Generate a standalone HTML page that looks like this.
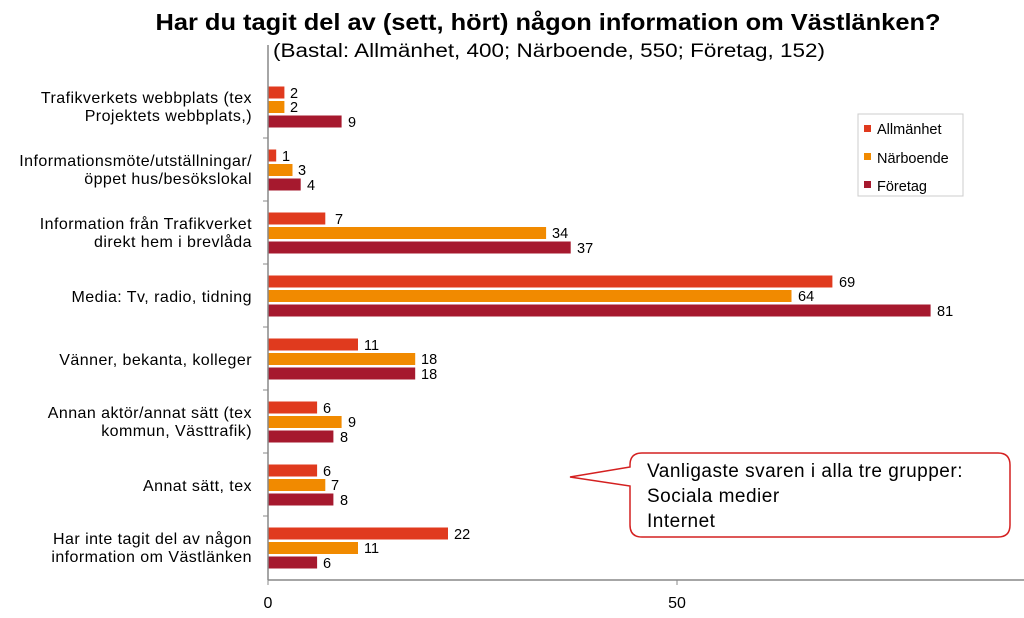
<!DOCTYPE html>
<html><head><meta charset="utf-8"><style>
body{margin:0;background:#fff;}
svg text{font-family:"Liberation Sans",sans-serif;}
</style></head><body>
<svg width="1024" height="613" viewBox="0 0 1024 613" xmlns="http://www.w3.org/2000/svg">
<text x="548" y="30" text-anchor="middle" font-size="23" font-weight="bold" textLength="785" lengthAdjust="spacingAndGlyphs">Har du tagit del av (sett, hört) någon information om Västlänken?</text>
<text x="549" y="57" text-anchor="middle" font-size="19" textLength="552" lengthAdjust="spacingAndGlyphs">(Bastal: Allmänhet, 400; Närboende, 550; Företag, 152)</text>

<g>
<rect x="268" y="86.5" width="16.4" height="12" fill="#e03a1e"/><rect x="268" y="101" width="16.4" height="12" fill="#f18a00"/><rect x="268" y="115.5" width="73.6" height="12" fill="#a6192e"/>
<rect x="268" y="149.5" width="8.2" height="12" fill="#e03a1e"/><rect x="268" y="164" width="24.5" height="12" fill="#f18a00"/><rect x="268" y="178.5" width="32.7" height="12" fill="#a6192e"/>
<rect x="268" y="212.5" width="57.3" height="12" fill="#e03a1e"/><rect x="268" y="227" width="278.1" height="12" fill="#f18a00"/><rect x="268" y="241.5" width="302.7" height="12" fill="#a6192e"/>
<rect x="268" y="275.5" width="564.4" height="12" fill="#e03a1e"/><rect x="268" y="290" width="523.5" height="12" fill="#f18a00"/><rect x="268" y="304.5" width="662.6" height="12" fill="#a6192e"/>
<rect x="268" y="338.5" width="90" height="12" fill="#e03a1e"/><rect x="268" y="353" width="147.2" height="12" fill="#f18a00"/><rect x="268" y="367.5" width="147.2" height="12" fill="#a6192e"/>
<rect x="268" y="401.5" width="49.1" height="12" fill="#e03a1e"/><rect x="268" y="416" width="73.6" height="12" fill="#f18a00"/><rect x="268" y="430.5" width="65.4" height="12" fill="#a6192e"/>
<rect x="268" y="464.5" width="49.1" height="12" fill="#e03a1e"/><rect x="268" y="479" width="57.3" height="12" fill="#f18a00"/><rect x="268" y="493.5" width="65.4" height="12" fill="#a6192e"/>
<rect x="268" y="527.5" width="180" height="12" fill="#e03a1e"/><rect x="268" y="542" width="90" height="12" fill="#f18a00"/><rect x="268" y="556.5" width="49.1" height="12" fill="#a6192e"/>
</g>
<g font-size="14.5">
<text x="290" y="98">2</text><text x="290" y="112">2</text><text x="348" y="127">9</text>
<text x="282" y="161">1</text><text x="298" y="175">3</text><text x="307" y="190">4</text>
<text x="335" y="224">7</text><text x="552" y="238">34</text><text x="577" y="253">37</text>
<text x="839" y="287">69</text><text x="798" y="301">64</text><text x="937" y="316">81</text>
<text x="364" y="350">11</text><text x="421" y="364">18</text><text x="421" y="379">18</text>
<text x="323" y="413">6</text><text x="348" y="427">9</text><text x="340" y="442">8</text>
<text x="323" y="476">6</text><text x="331" y="490">7</text><text x="340" y="505">8</text>
<text x="454" y="539">22</text><text x="364" y="553">11</text><text x="323" y="568">6</text>
</g>
<g font-size="16" letter-spacing="0.45" text-anchor="end">
<text x="252" y="103">Trafikverkets webbplats (tex</text><text x="252" y="121">Projektets webbplats,)</text>
<text x="252" y="166">Informationsmöte/utställningar/</text><text x="252" y="184">öppet hus/besökslokal</text>
<text x="252" y="229">Information från Trafikverket</text><text x="252" y="247">direkt hem i brevlåda</text>
<text x="252" y="302">Media: Tv, radio, tidning</text>
<text x="252" y="365">Vänner, bekanta, kolleger</text>
<text x="252" y="418">Annan aktör/annat sätt (tex</text><text x="252" y="436">kommun, Västtrafik)</text>
<text x="252" y="491">Annat sätt, tex</text>
<text x="252" y="544">Har inte tagit del av någon</text><text x="252" y="562">information om Västlänken</text>
</g>
<line x1="268" y1="45" x2="268" y2="580" stroke="#888" stroke-width="1.5"/>
<line x1="268" y1="580" x2="1024" y2="580" stroke="#888" stroke-width="1.5"/>
<g stroke="#888"><line x1="263" y1="138" x2="268" y2="138"/><line x1="263" y1="201" x2="268" y2="201"/><line x1="263" y1="264" x2="268" y2="264"/><line x1="263" y1="327" x2="268" y2="327"/><line x1="263" y1="390" x2="268" y2="390"/><line x1="263" y1="453" x2="268" y2="453"/><line x1="263" y1="516" x2="268" y2="516"/>
<line x1="677" y1="580" x2="677" y2="585"/><line x1="268" y1="580" x2="268" y2="585"/></g>
<text x="268" y="608" text-anchor="middle" font-size="16">0</text>
<text x="677" y="608" text-anchor="middle" font-size="16">50</text>
<rect x="858" y="114" width="105" height="82" fill="#fff" stroke="#ccc"/>
<rect x="864" y="125" width="7" height="7" fill="#e03a1e"/><text x="877" y="134" font-size="14.5">Allmänhet</text>
<rect x="864" y="153" width="7" height="7" fill="#f18a00"/><text x="877" y="163" font-size="14.5">Närboende</text>
<rect x="864" y="181" width="7" height="7" fill="#a6192e"/><text x="877" y="191" font-size="14.5">Företag</text>
<path d="M642,453 H998 Q1010,453 1010,465 V525 Q1010,537 998,537 H642 Q630,537 630,525 V486 L570,477 L630,467 V465 Q630,453 642,453 Z" fill="#fff" stroke="#d42020" stroke-width="1.5"/>
<g font-size="19" letter-spacing="0.5">
<text x="647" y="477">Vanligaste svaren i alla tre grupper:</text>
<text x="647" y="502">Sociala medier</text>
<text x="647" y="527">Internet</text>
</g>
</svg>
</body></html>
